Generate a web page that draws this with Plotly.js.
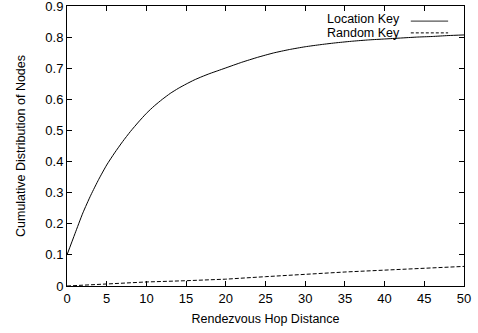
<!DOCTYPE html>
<html>
<head>
<meta charset="utf-8">
<script src="https://cdn.plot.ly/plotly-3.0.1.min.js"></script>
<style>
html,body{margin:0;padding:0;background:#fff;}
#chart{width:478px;height:333px;}
</style>
</head>
<body>
<div id="chart"></div>
<script>
// Data
const hopLocation = [0,1,2,3,4,5,6,7,8,9,10,11,12,13,14,15,16,17,18,19,20,22,24,26,28,30,32,34,36,38,40,42,44,46,48,50];
const cdfLocation = [0.100,0.168,0.235,0.292,0.343,0.389,0.428,0.464,0.497,0.527,0.555,0.579,0.600,0.619,0.635,0.649,0.662,0.673,0.683,0.692,0.701,0.719,0.735,0.749,0.760,0.769,0.776,0.782,0.787,0.791,0.794,0.797,0.800,0.802,0.805,0.807];
const hopRandom = [0,5,10,15,20,25,30,35,40,45,50];
const cdfRandom = [0,0.007,0.013,0.017,0.022,0.030,0.038,0.045,0.051,0.056,0.063];
const seriesNames = ["Location Key","Random Key"];
const xTicks = [0,5,10,15,20,25,30,35,40,45,50];
const yTicks = [0,0.1,0.2,0.3,0.4,0.5,0.6,0.7,0.8,0.9];
const yTickText = ["0","0.1","0.2","0.3","0.4","0.5","0.6","0.7","0.8","0.9"];

const font = {family:"Liberation Sans, Arial, Helvetica, sans-serif", size:13, color:"#000"};
const legFont = {family:"Liberation Sans, Arial, Helvetica, sans-serif", size:12.5, color:"#000"};

const traces = [
  {x:hopLocation, y:cdfLocation, name:seriesNames[0], mode:"lines", line:{color:"#000", width:1, shape:"spline", smoothing:0.6}, showlegend:false},
  {x:hopRandom, y:cdfRandom, name:seriesNames[1], mode:"lines", line:{color:"#000", width:1, dash:"4px,2px"}, showlegend:false}
];

const axisCommon = {
  showline:true, linecolor:"#000", linewidth:1, mirror:"ticks",
  ticks:"inside", ticklen:5, tickcolor:"#000", tickwidth:1,
  showgrid:false, zeroline:false, tickfont:font, ticklabeloverflow:"allow"
};

const layout = {
  width:478, height:333,
  margin:{l:67, r:14, t:6, b:47},
  paper_bgcolor:"#fff", plot_bgcolor:"#fff",
  font:font,
  xaxis:Object.assign({}, axisCommon, {
    range:[0,50.0001], tickvals:xTicks,
    title:{text:"Rendezvous Hop Distance", font:legFont, standoff:9}
  }),
  yaxis:Object.assign({}, axisCommon, {
    range:[0,0.90001], tickvals:yTicks, ticktext:yTickText,
    title:{text:"Cumulative Distribution of Nodes", font:legFont, standoff:16}
  }),
  annotations:[
    {xref:"paper", yref:"paper", x:0.844, y:0.952, xanchor:"right", yanchor:"middle", text:seriesNames[0], showarrow:false, font:legFont},
    {xref:"paper", yref:"paper", x:0.844, y:0.902, xanchor:"right", yanchor:"middle", text:seriesNames[1], showarrow:false, font:legFont}
  ],
  shapes:[
    {type:"line", xref:"paper", yref:"paper", x0:0.866, x1:0.96, y0:0.946, y1:0.946, line:{color:"#555", width:1.2}},
    {type:"line", xref:"paper", yref:"paper", x0:0.866, x1:0.96, y0:0.904, y1:0.904, line:{color:"#000", width:1, dash:"3px,2px"}}
  ]
};

Plotly.newPlot("chart", traces, layout, {staticPlot:true, displayModeBar:false});
</script>
</body>
</html>
